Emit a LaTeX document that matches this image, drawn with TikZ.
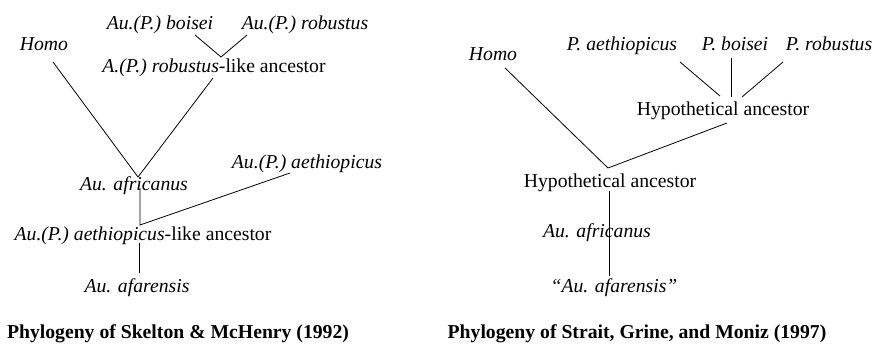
\documentclass[tikz,border=0pt]{standalone}
\usepackage{fontspec}
\setmainfont{Liberation Serif}
\begin{document}
\begin{tikzpicture}[x=1pt, y=-1pt,
        txt/.style={inner sep=0pt, text height=13pt, text depth=4pt,
                    font=\fontsize{19.7}{22}\selectfont},
        taxon/.style={txt, font=\fontsize{19.7}{22}\selectfont\itshape},
        ttl/.style={txt, font=\fontsize{19.7}{22}\selectfont\bfseries},
        br/.style={line width=0.8pt, black}
    ]
    \useasboundingbox (0,0) rectangle (875,353);

    % Skelton & McHenry (1992)
    \node[taxon] (boiseiL)  at (160,25)  {Au.(P.) boisei};
    \node[taxon] (robustL)  at (305,25)  {Au.(P.) robustus};
    \node[taxon] (homoL)    at (44,46)   {Homo};
    \node[txt]   (robancL)  at (214,68)  {\textit{A.(P.) robustus}-like ancestor};
    \node[taxon] (aethL)    at (307,164) {Au.(P.) aethiopicus};
    \node[taxon] (africL)   at (134,186) {Au. africanus};
    \node[txt]   (aethancL) at (143,236) {\textit{Au.(P.) aethiopicus}-like ancestor};
    \node[taxon] (afarL)    at (137,288) {Au. afarensis};
    \node[ttl]   (titleL)   at (178,334) {Phylogeny of Skelton \& McHenry (1992)};

    % 连线端点
    \coordinate (bL)  at (195,35);
    \coordinate (rL)  at (247,35);
    \coordinate (jR)  at (221,57);
    \coordinate (hL)  at (53,62);
    \coordinate (jA)  at (138,177);
    \coordinate (raL) at (213,78);
    \coordinate (afL) at (140,188);
    \coordinate (jE)  at (140,225);
    \coordinate (aeL) at (290,173);
    \coordinate (eaL) at (139,243);
    \coordinate (faL) at (139,273);

    \draw[br] (bL) -- (jR) -- (rL);
    \draw[br] (hL) -- (jA) -- (raL);
    \draw[br] (afL) -- (jE) -- (aeL);
    \draw[br] (eaL) -- (faL);

    % Strait, Grine, and Moniz (1997)
    \node[taxon] (aethR)   at (622,46)  {P. aethiopicus};
    \node[taxon] (boiseiR) at (735,46)  {P. boisei};
    \node[taxon] (robustR) at (829,46)  {P. robustus};
    \node[taxon] (homoR)   at (493,56)  {Homo};
    \node[txt]   (hancU)   at (723,111) {Hypothetical ancestor};
    \node[txt]   (hancL)   at (610,183) {Hypothetical ancestor};
    \node[taxon] (africR)  at (597,233) {Au. africanus};
    \node[taxon] (afarR)   at (614,288) {``Au. afarensis''};
    \node[ttl]   (titleR)  at (637,334) {Phylogeny of Strait, Grine, and Moniz (1997)};

    \coordinate (aR)  at (680,62);
    \coordinate (aR2) at (720,96);
    \coordinate (bR)  at (731,58);
    \coordinate (bR2) at (731,97);
    \coordinate (rR)  at (783,62);
    \coordinate (rR2) at (742,97);
    \coordinate (hR)  at (505,68);
    \coordinate (jH)  at (608,168);
    \coordinate (huR) at (727,123);
    \coordinate (vT)  at (609,191);
    \coordinate (vB)  at (609,276);

    \draw[br] (aR) -- (aR2);
    \draw[br] (bR) -- (bR2);
    \draw[br] (rR) -- (rR2);
    \draw[br] (hR) -- (jH) -- (huR);
    \draw[br] (vT) -- (vB);
\end{tikzpicture}
\end{document}
